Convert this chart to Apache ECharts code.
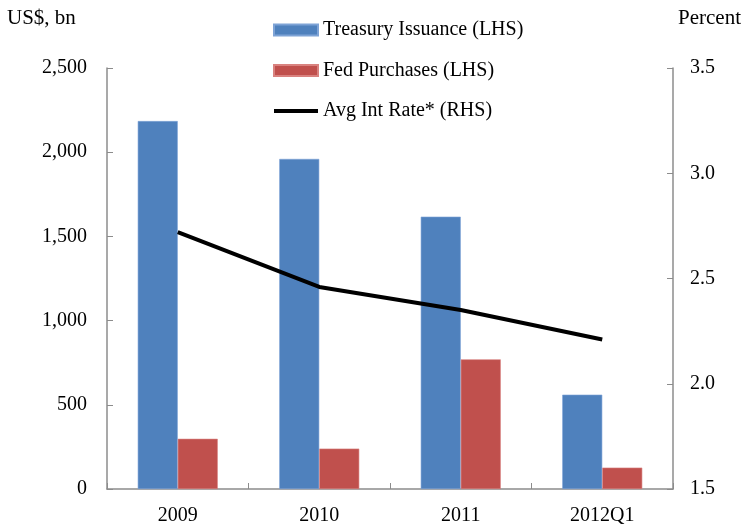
<!DOCTYPE html>
<html><head><meta charset="utf-8">
<script src="https://cdn.jsdelivr.net/npm/echarts@6/dist/echarts.min.js"></script>
<style>html,body{margin:0;padding:0;background:#fff}#c{width:750px;height:528px}</style>
</head><body><div id="c"></div>
<script>
const categories = ['2009', '2010', '2011', '2012Q1'];
const treasuryIssuance = [2185, 1960, 1617, 560];
const fedPurchases = [298, 240, 770, 127];
const avgIntRate = [2.72, 2.46, 2.35, 2.21];
const leftTicks = [0, 500, 1000, 1500, 2000, 2500];
const rightTicks = [1.5, 2.0, 2.5, 3.0, 3.5];

const FONT = '"Liberation Serif", "DejaVu Serif", serif';
const FS = 20;
const axisColor = '#8c8c8c';
const chart = echarts.init(document.getElementById('c'));
chart.setOption({
  animation: false,
  textStyle: { fontFamily: FONT, color: '#000' },
  grid: { left: 107, right: 77, top: 68, bottom: 39, containLabel: false },
  graphic: [
    { type: 'text', left: 7, top: 8, style: { text: 'US$, bn', font: '21px ' + FONT, fill: '#000' } },
    { type: 'text', left: 678, top: 8, style: { text: 'Percent', font: '21px ' + FONT, fill: '#000' } }
  ],
  legend: {
    orient: 'vertical', left: 268, top: 15, itemGap: 20.5, itemWidth: 44, itemHeight: 11,
    textStyle: { fontFamily: FONT, fontSize: FS, color: '#000' },
    data: [
      { name: 'Treasury Issuance (LHS)', icon: 'rect' },
      { name: 'Fed Purchases (LHS)', icon: 'rect' },
      { name: 'Avg Int Rate* (RHS)', icon: 'path://M0,0 L44,0 L44,4 L0,4 Z', itemStyle: { color: '#000' } }
    ]
  },
  xAxis: {
    type: 'category', data: categories,
    axisLine: { lineStyle: { color: axisColor, width: 1.5 } },
    axisTick: { show: true, inside: true, length: 6, lineStyle: { color: axisColor } },
    axisLabel: { fontFamily: FONT, fontSize: FS, color: '#000', margin: 17 }
  },
  yAxis: [
    {
      type: 'value', min: 0, max: 2500, interval: 500, position: 'left',
      axisLine: { show: true, lineStyle: { color: axisColor, width: 1.5 } },
      axisTick: { show: true, inside: true, length: 6, lineStyle: { color: axisColor } },
      splitLine: { show: false },
      axisLabel: {
        fontFamily: FONT, fontSize: FS, color: '#000', margin: 20,
        formatter: v => leftTicks.includes(v) ? v.toLocaleString('en-US') : ''
      }
    },
    {
      type: 'value', min: 1.5, max: 3.5, interval: 0.5, position: 'right',
      axisLine: { show: true, lineStyle: { color: axisColor, width: 1.5 } },
      axisTick: { show: true, inside: true, length: 6, lineStyle: { color: axisColor } },
      splitLine: { show: false },
      axisLabel: {
        fontFamily: FONT, fontSize: FS, color: '#000', margin: 17,
        formatter: v => rightTicks.some(t => Math.abs(t - v) < 1e-9) ? v.toFixed(1) : ''
      }
    }
  ],
  series: [
    {
      name: 'Treasury Issuance (LHS)', type: 'bar', data: treasuryIssuance, yAxisIndex: 0,
      barWidth: 40, barGap: '0%',
      itemStyle: { color: '#4F81BD', borderColor: '#7ea3d6', borderWidth: 0.6 }
    },
    {
      name: 'Fed Purchases (LHS)', type: 'bar', data: fedPurchases, yAxisIndex: 0,
      barWidth: 40, barGap: '0%',
      itemStyle: { color: '#C0504D', borderColor: '#d9827f', borderWidth: 0.6 }
    },
    {
      name: 'Avg Int Rate* (RHS)', type: 'line', data: avgIntRate, yAxisIndex: 1,
      symbol: 'none', lineStyle: { color: '#000', width: 4 }, itemStyle: { color: '#000' }, z: 5
    }
  ]
});
</script></body></html>
